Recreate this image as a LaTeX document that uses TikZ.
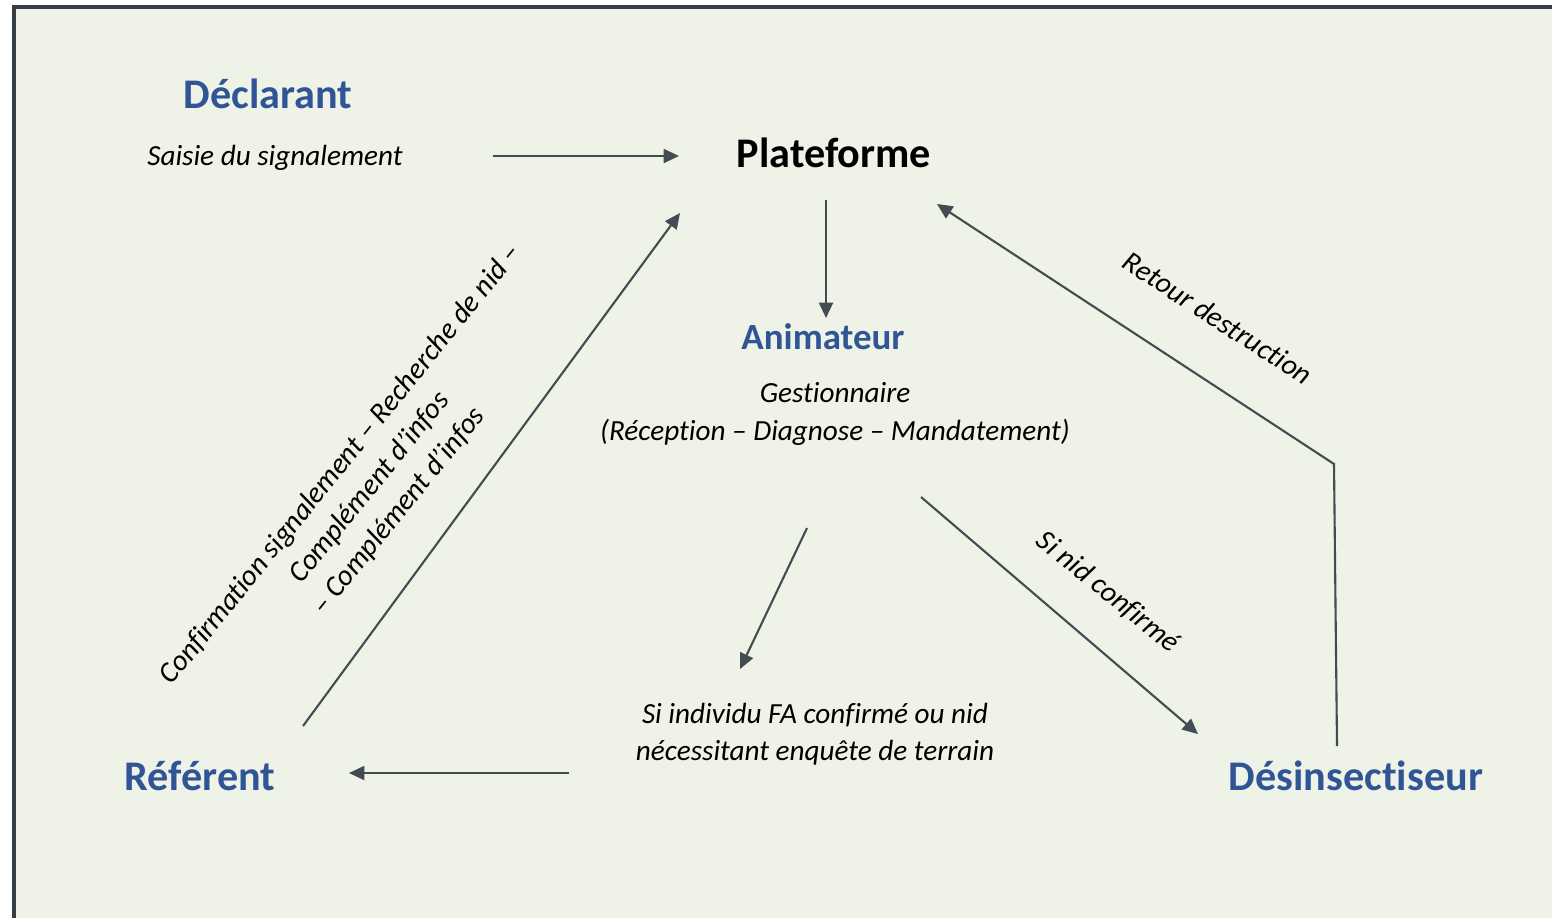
\documentclass[tikz,border=0pt]{standalone}
\usepackage{fontspec}
\setmainfont{Carlito}[Ligatures={NoCommon}]
\usetikzlibrary{arrows.meta}
\definecolor{bg}{HTML}{EFF2E6}
\definecolor{frame}{HTML}{353E45}
\definecolor{arr}{HTML}{424C53}
\definecolor{hblue}{HTML}{2F5597}
\tikzset{
  head/.style={font=\fontsize{12}{14}\selectfont\bfseries, text=hblue, inner sep=0pt, anchor=base},
  plat/.style={font=\fontsize{12}{14}\selectfont\bfseries, text=black, inner sep=0pt, anchor=base},
  anim/.style={font=\fontsize{10.5}{12}\selectfont\bfseries, text=hblue, inner sep=0pt, anchor=base},
  lbl/.style={font=\fontsize{8.3}{10.6}\selectfont\itshape, text=black, inner sep=0pt, anchor=base},
  rlbl/.style={font=\fontsize{8.3}{10.6}\selectfont\itshape, text=black, inner sep=0pt, anchor=center, align=center},
  conn/.style={draw=arr, line width=0.6pt, -{Triangle[length=4.4pt,width=4pt]}},
  plain/.style={draw=arr, line width=0.6pt}
}
\begin{document}
\begin{tikzpicture}[x=0.01cm,y=-0.01cm]
\useasboundingbox (0,0) rectangle (1552,917);
\clip (0,0) rectangle (1552,917);
\fill[white] (0,0) rectangle (1552,917);
\draw[fill=bg, draw=frame, line width=1.15pt] (14,7) rectangle (1620,1000);

% nodes
\node[head] (decl) at (268,108) {Déclarant};
\node[lbl] (saisie) at (275,165) {Saisie du signalement};
\node[plat] (plat) at (834,167) {Plateforme};
\node[anim] (anim) at (823,349) {Animateur};
\node[lbl] (gest1) at (835,402) {Gestionnaire};
\node[lbl] (gest2) at (835,440) {(Réception – Diagnose – Mandatement)};
\node[lbl] (si1) at (815,723) {Si individu FA confirmé ou nid};
\node[lbl] (si2) at (815,760) {nécessitant enquête de terrain};
\node[head] (ref) at (200,790) {Référent};
\node[head] (des) at (1356,790) {Désinsectiseur};

\node[rlbl, rotate=51] (conf) at (370,488) {Confirmation signalement – Recherche de nid –\\Complément d’infos\\– Complément d’infos};
\node[rlbl, rotate=-33] (retour) at (1218,318) {Retour destruction};
\node[rlbl, rotate=-39] (sinid) at (1108,592) {Si nid confirmé};

% connector end points
\coordinate (a1s) at (493,156);
\coordinate (a1e) at (679,156);
\coordinate (a2s) at (826,200);
\coordinate (a2e) at (826,318);
\coordinate (a3s) at (807,528);
\coordinate (a3e) at (740,669);
\coordinate (a4s) at (921,497);
\coordinate (a4e) at (1198,734);
\coordinate (a5s) at (569,773);
\coordinate (a5e) at (349,773);
\coordinate (a6s) at (303,726);
\coordinate (a6e) at (680,213);
\coordinate (a7s) at (1337,746);
\coordinate (a7m) at (1334,464);
\coordinate (a7e) at (937,204);

% connectors
\draw[conn] (a1s) -- (a1e);
\draw[conn] (a2s) -- (a2e);
\draw[conn] (a3s) -- (a3e);
\draw[conn] (a4s) -- (a4e);
\draw[conn] (a5s) -- (a5e);
\draw[conn] (a6s) -- (a6e);
\draw[conn] (a7s) -- (a7m) -- (a7e);
\end{tikzpicture}
\end{document}
